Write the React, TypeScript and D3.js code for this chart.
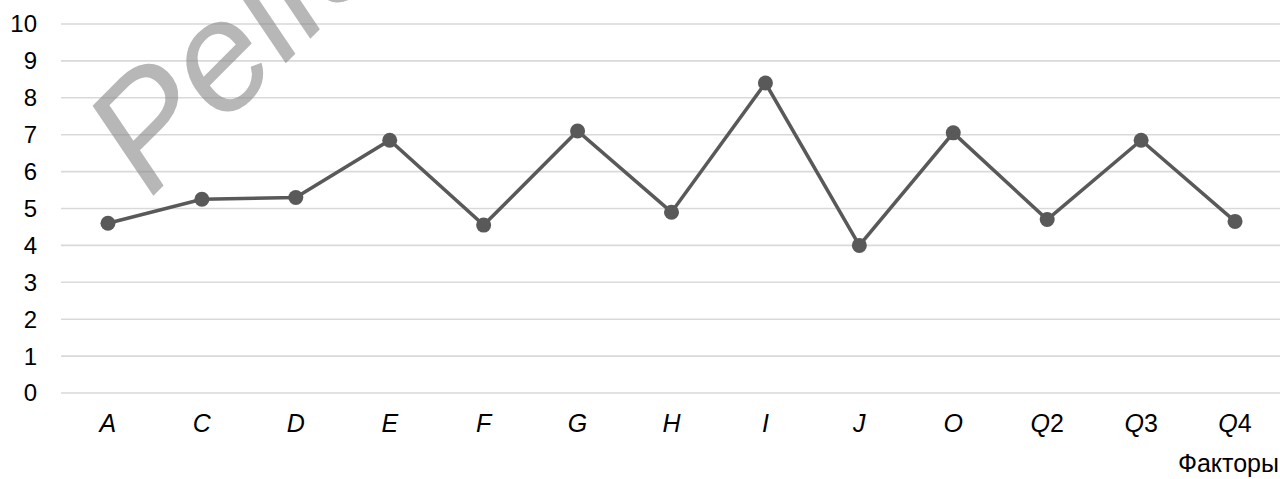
import React from "react";
import * as d3 from "d3";

const categories = ["A", "C", "D", "E", "F", "G", "H", "I", "J", "O", "Q2", "Q3", "Q4"];
const values = [4.6, 5.25, 5.3, 6.85, 4.55, 7.1, 4.9, 8.4, 4.0, 7.05, 4.7, 6.85, 4.65];
const yTicks = [0, 1, 2, 3, 4, 5, 6, 7, 8, 9, 10];
const xAxisTitle = "Факторы";
const watermark = "Pelican";

export default function App() {
  const W = 1280, H = 479;
  const left = 61, right = 1282, top = 24, bottom = 393;
  const x = d3.scaleBand().domain(categories).range([left, right]);
  const y = d3.scaleLinear().domain([0, 10]).range([bottom, top]);
  const line = d3.line<number>()
    .x((_, i) => (x(categories[i]) as number) + x.bandwidth() / 2)
    .y((d) => y(d));
  const font = "Liberation Sans, Arial, sans-serif";
  return (
    <svg width={W} height={H} style={{ position: "absolute", left: 0, top: 0 }} fontFamily={font}>
      <rect width={W} height={H} fill="#fff" />
      {yTicks.map((t) => (
        <g key={t}>
          <line x1={left} x2={right} y1={y(t)} y2={y(t)} stroke="#d9d9d9" strokeWidth={1.6} />
          <text x={37} y={y(t)} dy="0.35em" textAnchor="end" fontSize={24} fill="#000">{t}</text>
        </g>
      ))}
      <text
        transform="translate(150,199) rotate(-45)"
        fontSize={155}
        fontStyle="italic"
        fill="#888"
        opacity={0.6}
      >{watermark}</text>
      <path d={line(values) as string} fill="none" stroke="#595959" strokeWidth={3.5} />
      {values.map((v, i) => (
        <circle key={i} cx={(x(categories[i]) as number) + x.bandwidth() / 2} cy={y(v)} r={7.5} fill="#595959" />
      ))}
      {categories.map((c) => {
        const m = c.match(/^([A-Z])(\d*)$/);
        return (
          <text key={c} x={(x(c) as number) + x.bandwidth() / 2} y={432} textAnchor="middle" fontSize={25} fill="#000">
            <tspan fontStyle="italic">{m ? m[1] : c}</tspan>
            {m && m[2] ? <tspan>{m[2]}</tspan> : null}
          </text>
        );
      })}
      <text x={1279} y={472} textAnchor="end" fontSize={25} fill="#000">{xAxisTitle}</text>
    </svg>
  );
}
